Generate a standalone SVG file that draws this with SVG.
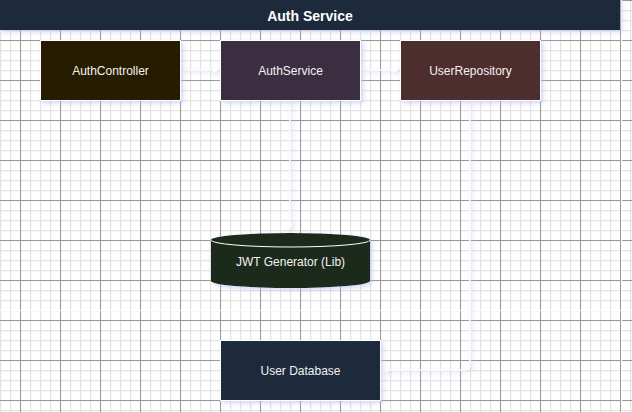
<svg xmlns="http://www.w3.org/2000/svg" width="632" height="412" viewBox="0 0 632 412">
<defs>
<pattern id="minor" width="10" height="10" patternUnits="userSpaceOnUse">
<path d="M0.5 0V10M0 0.5H10" stroke="#e4e4e4" stroke-width="1.5" fill="none"/>
</pattern>
<pattern id="major" x="20" y="0" width="40" height="40" patternUnits="userSpaceOnUse">
<path d="M0.5 0V40M0 0.5H40" stroke="#9a9a9a" stroke-width="1" fill="none"/>
</pattern>
<filter id="glow" x="-20%" y="-20%" width="140%" height="140%">
<feDropShadow dx="2" dy="2" stdDeviation="2.5" flood-color="#b8b8f0" flood-opacity="0.6"/>
</filter>
<filter id="lglow" x="-50%" y="-50%" width="200%" height="200%" filterUnits="userSpaceOnUse">
<feDropShadow dx="2" dy="2" stdDeviation="2" flood-color="#b8b8f0" flood-opacity="0.6"/>
</filter>
<marker id="arr" viewBox="0 0 10 10" refX="9" refY="5" markerWidth="6" markerHeight="6" orient="auto-start-reverse" markerUnits="userSpaceOnUse">
<path d="M0 0L10 5L0 10z" fill="#ffffff"/>
</marker>
</defs>
<style>
.lbl{font-family:"Liberation Sans",Arial,sans-serif;font-size:12px;fill:#f2f2f2;text-anchor:middle;dominant-baseline:central}
.title{font-family:"Liberation Sans",Arial,sans-serif;font-size:14px;font-weight:bold;fill:#ffffff;text-anchor:middle;dominant-baseline:central}
.box{stroke:#ffffff;stroke-width:1;filter:url(#glow)}
.edge{fill:none;stroke:#ffffff;stroke-width:1.5;filter:url(#lglow)}
</style>
<rect width="632" height="412" fill="#ffffff"/>
<rect width="632" height="412" fill="url(#minor)"/>
<rect width="632" height="412" fill="url(#major)"/>
<path d="M0 310.5H632M621.5 0V412" stroke="#ffffff" stroke-width="1"/>

<g id="title">
<rect x="0" y="0" width="620" height="30" fill="#1e293b" filter="url(#glow)"/>
<text class="title" x="310" y="16">Auth Service</text>
</g>

<g id="connectors">
<path class="edge" d="M181 70H218" marker-end="url(#arr)"/>
<path class="edge" d="M361 70H398" marker-end="url(#arr)"/>
<path class="edge" d="M290 101V228" marker-end="url(#arr)"/>
<path class="edge" d="M470 101V364Q470 370 464 370H383" marker-end="url(#arr)"/>
</g>

<g id="authController">
<rect class="box" x="40.5" y="40.5" width="140" height="60" fill="#281e02"/>
<text class="lbl" x="110.5" y="71">AuthController</text>
</g>
<g id="authService">
<rect class="box" x="220.5" y="40.5" width="140" height="60" fill="#3a2d40"/>
<text class="lbl" x="290.5" y="71">AuthService</text>
</g>
<g id="userRepository">
<rect class="box" x="400.5" y="40.5" width="140" height="60" fill="#4e2d2d"/>
<text class="lbl" x="470.5" y="71">UserRepository</text>
</g>
<g id="jwtGenerator">
<path d="M211 240A79.5 7 0 0 1 370 240V281A79.5 7 0 0 1 211 281Z" fill="#1f2b1e" filter="url(#glow)"/>
<path d="M211 240A79.5 7 0 0 0 370 240" fill="none" stroke="#ffffff" stroke-width="1"/>
<text class="lbl" x="290.5" y="262">JWT Generator (Lib)</text>
</g>
<g id="userDatabase">
<rect class="box" x="220.5" y="340.5" width="160" height="60" fill="#1e293b"/>
<text class="lbl" x="300.5" y="371">User Database</text>
</g>
</svg>
